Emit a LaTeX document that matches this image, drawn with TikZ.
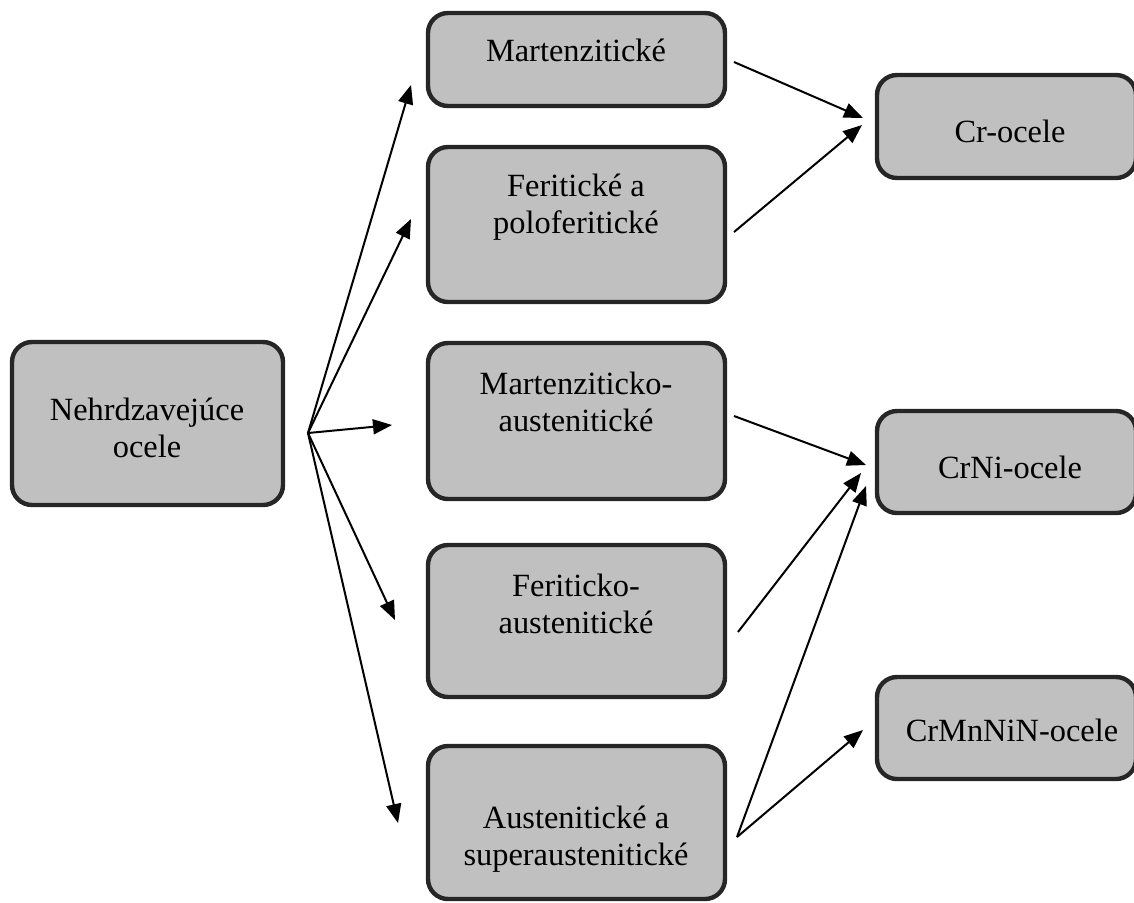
\documentclass[tikz,border=0pt]{standalone}
\usepackage{fontspec}
\setmainfont{Liberation Serif}
\usetikzlibrary{arrows.meta}

\definecolor{boxfill}{HTML}{C0C0C0}
\definecolor{boxline}{HTML}{262626}

\tikzset{
  box/.style={draw=boxline, line width=2.2pt, fill=boxfill, rounded corners=10pt,
              inner sep=0pt},
  label text/.style={font=\fontsize{16.2}{18.5}\selectfont, align=center, inner sep=0pt},
  link/.style={line width=1pt, -{Triangle[length=9.5pt,width=7.5pt]}},
}

% sizes given in pixels of a 1134 x 902 canvas (1px = 0.5pt)
\newcommand{\boxat}[5]{% name, x1, y1, x2, y2
  \node[box, minimum width={(#4-#2)*0.5pt}, minimum height={(#5-#3)*0.5pt}]
    (#1) at ({(#2+#4)/2},{(#3+#5)/2}) {};}

\begin{document}
\begin{tikzpicture}[x=0.5pt,y=-0.5pt]
  \useasboundingbox (0,0) rectangle (1134,902);

  % boxes
  \boxat{root}{12}{342}{283}{505}
  \boxat{mart}{428}{13}{725}{106}
  \boxat{ferit}{428}{147}{725}{302}
  \boxat{martaus}{428}{343}{725}{499}
  \boxat{feraus}{428}{545}{725}{697}
  \boxat{aus}{428}{746}{725}{899}
  \boxat{cr}{877}{75}{1136}{178}
  \boxat{crni}{877}{411}{1136}{513}
  \boxat{crmn}{877}{677}{1136}{779}

  % texts
  \node[label text] (t-root)    at (147,428) {Nehrdzavejúce\\ocele};
  \node[label text] (t-mart)    at (576,50)  {Martenzitické};
  \node[label text] (t-ferit)   at (576,207) {Feritické a\\poloferitické};
  \node[label text] (t-martaus) at (576,402) {Martenziticko-\\austenitické};
  \node[label text] (t-feraus)  at (576,604) {Feriticko-\\austenitické};
  \node[label text] (t-aus)     at (576,839) {Austenitické a\\superaustenitické};
  \node[label text] (t-cr)      at (1010,131) {Cr-ocele};
  \node[label text] (t-crni)    at (1010,467) {CrNi-ocele};
  \node[label text] (t-crmn)    at (1012,730) {CrMnNiN-ocele};

  % connector end points
  \coordinate (hub) at (308,433);
  \coordinate (in-mart)    at (411,85);
  \coordinate (in-ferit)   at (411,219);
  \coordinate (in-martaus) at (392,425);
  \coordinate (in-feraus)  at (395,620);
  \coordinate (in-aus)     at (398,823);

  \coordinate (out-mart)    at (734,62);
  \coordinate (out-ferit)   at (734,232);
  \coordinate (out-martaus) at (734,416);
  \coordinate (out-feraus)  at (738,632);
  \coordinate (out-aus)     at (737,837);

  \coordinate (in-cr-a)   at (863,118);
  \coordinate (in-cr-b)   at (862,125);
  \coordinate (in-crni-a) at (866,465);
  \coordinate (in-crni-b) at (861,473);
  \coordinate (in-crni-c) at (866,486);
  \coordinate (in-crmn)   at (863,730);

  % connectors
  \draw[link] (hub) -- (in-mart);
  \draw[link] (hub) -- (in-ferit);
  \draw[link] (hub) -- (in-martaus);
  \draw[link] (hub) -- (in-feraus);
  \draw[link] (hub) -- (in-aus);

  \draw[link] (out-mart) -- (in-cr-a);
  \draw[link] (out-ferit) -- (in-cr-b);
  \draw[link] (out-martaus) -- (in-crni-a);
  \draw[link] (out-feraus) -- (in-crni-b);
  \draw[link] (out-aus) -- (in-crni-c);
  \draw[link] (out-aus) -- (in-crmn);
\end{tikzpicture}
\end{document}
